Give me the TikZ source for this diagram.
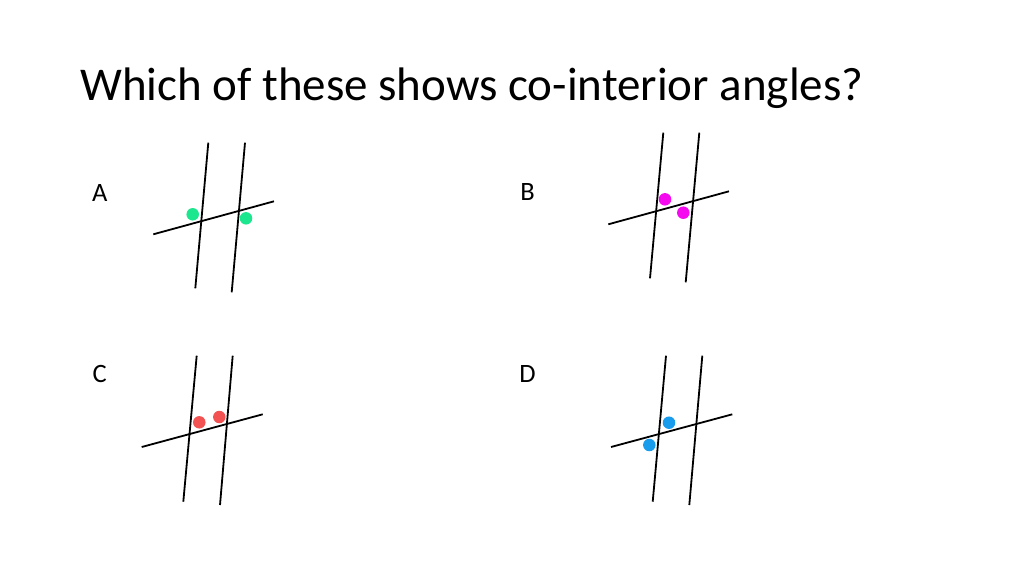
\documentclass[tikz,border=0pt]{standalone}
\usepackage{fontspec}
\setmainfont{Carlito}
\definecolor{dotgreen}{HTML}{1CE68E}
\definecolor{dotmag}{HTML}{F50AF0}
\definecolor{dotred}{HTML}{F25252}
\definecolor{dotblue}{HTML}{1A9CEC}
\begin{document}
\begin{tikzpicture}[x=1pt,y=-1pt,
  ln/.style={line width=1.8pt,black},
  dot/.style={circle,inner sep=0pt,minimum size=12.5pt},
  lab/.style={anchor=base,inner sep=0pt,font=\fontsize{26.5}{30}\selectfont},
  ttl/.style={anchor=base west,inner sep=0pt,font=\fontsize{47}{56}\selectfont}]
\useasboundingbox[fill=white] (0,0) rectangle (1024,576);
\node[ttl] (title) at (80,100.5) {Which of these shows co-interior angles?};
% A
\node[lab] (la) at (99.7,201) {A};
\coordinate (a1t) at (208.3,142.7); \coordinate (a1b) at (195.3,288.3);
\coordinate (a2t) at (245,142.7); \coordinate (a2b) at (231.7,292.3);
\coordinate (atl) at (153.3,234.3); \coordinate (atr) at (274,201.3);
\draw[ln] (a1t) -- (a1b); \draw[ln] (a2t) -- (a2b); \draw[ln] (atl) -- (atr);
\node[dot,fill=dotgreen] (ad1) at (192.7,214.3) {};
\node[dot,fill=dotgreen] (ad2) at (246,218.3) {};
% B
\node[lab] (lb) at (527.5,200.5) {B};
\coordinate (b1t) at (663.3,132.7); \coordinate (b1b) at (650,278.3);
\coordinate (b2t) at (699.3,132.7); \coordinate (b2b) at (685.7,282.3);
\coordinate (btl) at (608.3,224.3); \coordinate (btr) at (729,191.3);
\draw[ln] (b1t) -- (b1b); \draw[ln] (b2t) -- (b2b); \draw[ln] (btl) -- (btr);
\node[dot,fill=dotmag] (bd1) at (665,199.3) {};
\node[dot,fill=dotmag] (bd2) at (683.3,212.7) {};
% C
\node[lab] (lc) at (99.7,382.5) {C};
\coordinate (c1t) at (196.7,355.7); \coordinate (c1b) at (183.3,501.7);
\coordinate (c2t) at (232.7,355.7); \coordinate (c2b) at (220,505);
\coordinate (ctl) at (141.7,447); \coordinate (ctr) at (262.7,414.3);
\draw[ln] (c1t) -- (c1b); \draw[ln] (c2t) -- (c2b); \draw[ln] (ctl) -- (ctr);
\node[dot,fill=dotred] (cd1) at (199.3,422.3) {};
\node[dot,fill=dotred] (cd2) at (219.3,417) {};
% D
\node[lab] (ld) at (527.5,382.5) {D};
\coordinate (d1t) at (666,355.7); \coordinate (d1b) at (652.7,501.7);
\coordinate (d2t) at (702.3,355.7); \coordinate (d2b) at (689.3,505);
\coordinate (dtl) at (611,447); \coordinate (dtr) at (732.3,414.3);
\draw[ln] (d1t) -- (d1b); \draw[ln] (d2t) -- (d2b); \draw[ln] (dtl) -- (dtr);
\node[dot,fill=dotblue] (dd1) at (669,422.7) {};
\node[dot,fill=dotblue] (dd2) at (649.3,445) {};
\end{tikzpicture}
\end{document}
